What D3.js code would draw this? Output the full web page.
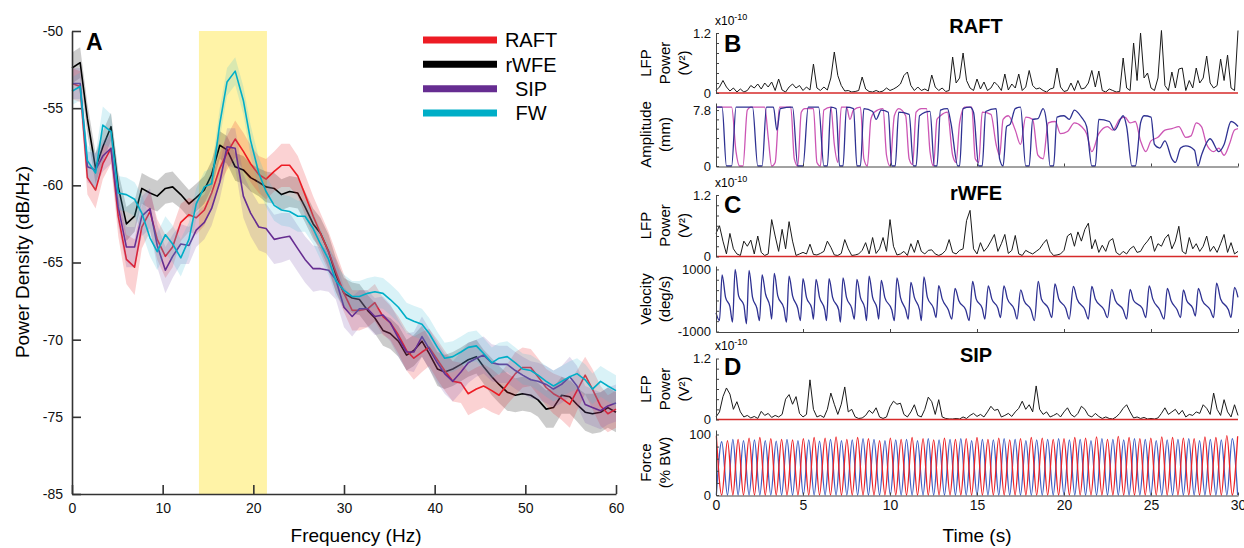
<!DOCTYPE html>
<html>
<head>
<meta charset="utf-8">
<script src="https://cdn.jsdelivr.net/npm/d3@7"></script>
<style>
  body { margin: 0; background: #fff; }
  svg { display: block; font-family: "Liberation Sans", Arial, sans-serif; }
</style>
</head>
<body>
<svg id="chart" width="1244" height="548"></svg>
<script>
// ---------- panel A : power spectra ----------
var freqHz = [0,0.9,1.7,2.6,3.4,4.3,5.1,6,6.9,7.7,8.6,9.4,10.3,11.1,12,12.9,13.7,14.6,15.4,16.3,
  17.1,18,18.9,19.7,20.6,21.4,22.3,23.1,24,24.9,25.7,26.6,27.4,28.3,29.1,30,30.9,31.7,32.6,33.4,
  34.3,35.1,36,36.9,37.7,38.6,39.4,40.3,41.1,42,42.9,43.7,44.6,45.4,46.3,47.1,48,48.9,49.7,50.6,
  51.4,52.3,53.1,54,54.9,55.7,56.6,57.4,58.3,59.1,60];

var raftMean = [-53.4,-53.6,-59.5,-60.3,-58.6,-57.6,-62.0,-64.8,-65.3,-62.7,
  -61.7,-63.5,-64.6,-64.0,-62.4,-61.9,-62.1,-61.6,-60.5,-58.9,
  -57.9,-57.0,-57.8,-58.6,-59.3,-59.6,-59.1,-58.7,-58.7,-59.4,
  -60.6,-62.0,-63.1,-64.3,-65.6,-67.0,-68.1,-68.1,-68.0,-67.6,
  -68.5,-68.9,-69.7,-70.7,-71.2,-70.8,-70.5,-71.3,-72.0,-72.7,
  -72.8,-73.5,-73.2,-73.0,-73.3,-73.6,-72.9,-72.2,-71.8,-71.8,
  -72.4,-73.1,-73.5,-73.8,-74.2,-73.3,-72.3,-73.2,-74.3,-74.8,
  -74.5];
var raftSem = [1.0,1.0,1.1,1.2,1.0,1.0,1.3,1.6,1.8,1.4,
  1.3,1.3,1.4,1.3,1.2,1.1,1.1,1.0,1.0,1.0,
  1.1,1.2,1.2,1.2,1.2,1.3,1.3,1.4,1.4,1.3,
  1.3,1.3,1.3,1.3,1.3,1.2,1.3,1.3,1.2,1.2,
  1.2,1.1,1.2,1.3,1.4,1.3,1.2,1.3,1.3,1.3,
  1.3,1.4,1.4,1.4,1.4,1.3,1.3,1.4,1.3,1.2,
  1.2,1.2,1.3,1.4,1.5,1.3,1.2,1.3,1.3,1.2,
  1.2];

var rwfeMean = [-52.4,-52.05,-55.7,-58.9,-57.5,-56.2,-60.1,-62.5,-62.0,-60.2,
  -60.5,-60.7,-60.2,-60.1,-60.6,-61.2,-60.8,-60.3,-59.3,-57.4,
  -57.7,-58.8,-59.0,-59.5,-59.8,-60.1,-60.2,-60.6,-60.4,-60.5,
  -61.4,-62.5,-63.1,-64.3,-65.8,-67.0,-67.3,-67.4,-68.1,-68.6,
  -69.4,-69.6,-70.1,-71.0,-70.7,-70.1,-70.9,-71.9,-72.1,-71.9,
  -71.6,-71.3,-71.1,-71.75,-72.4,-72.9,-73.4,-73.6,-73.5,-73.6,
  -73.9,-74.5,-74.4,-73.6,-73.7,-74.2,-74.7,-74.8,-74.7,-74.4,
  -74.7];
var rwfeSem = [1.0,1.0,1.0,1.0,1.0,0.9,1.0,1.1,1.0,1.0,
  1.0,1.0,1.0,1.0,0.9,0.9,0.9,0.9,0.9,0.9,
  0.9,0.9,0.9,0.9,0.9,1.0,1.0,1.0,1.0,1.0,
  1.0,1.0,1.0,1.1,1.1,1.0,1.0,1.0,1.0,1.0,
  1.0,1.0,1.0,1.0,1.0,1.0,1.0,1.1,1.1,1.1,
  1.1,1.1,1.1,1.1,1.2,1.2,1.2,1.1,1.1,1.1,
  1.1,1.2,1.3,1.2,1.1,1.1,1.2,1.3,1.3,1.3,
  1.3];

var sipMean = [-53.4,-53.4,-58.8,-59.0,-58.1,-57.6,-61.4,-64.0,-64.0,-62.0,
  -61.5,-63.9,-65.5,-64.6,-63.8,-63.9,-62.9,-62.4,-61.5,-59.8,
  -57.5,-57.6,-60.7,-61.8,-62.7,-62.8,-63.5,-63.4,-63.3,-64.1,
  -64.8,-65.4,-65.4,-65.5,-66.1,-67.9,-68.5,-68.0,-68.0,-68.5,
  -68.4,-68.9,-69.9,-70.8,-70.8,-69.8,-70.6,-71.5,-72.2,-72.7,
  -72.1,-71.5,-71.2,-71.0,-71.5,-71.6,-71.6,-72.0,-72.3,-72.6,
  -72.7,-72.9,-73.2,-72.9,-72.4,-73.0,-74.2,-74.4,-74.6,-74.3,
  -74.1];
var sipSem = [1.0,1.0,1.0,1.1,1.0,1.0,1.2,1.3,1.3,1.3,
  1.3,1.4,1.5,1.4,1.3,1.2,1.1,1.1,1.1,1.1,
  1.2,1.3,1.4,1.5,1.5,1.6,1.6,1.6,1.5,1.5,
  1.5,1.5,1.4,1.4,1.3,1.3,1.3,1.2,1.2,1.2,
  1.2,1.2,1.2,1.2,1.3,1.3,1.3,1.3,1.3,1.3,
  1.3,1.3,1.2,1.2,1.2,1.2,1.2,1.2,1.2,1.2,
  1.2,1.2,1.2,1.2,1.3,1.3,1.2,1.2,1.2,1.2,
  1.2];

var fwMean = [-53.9,-53.6,-58.4,-59.2,-56.1,-56.5,-60.5,-60.6,-60.9,-61.8,
  -63.4,-64.3,-63.2,-63.8,-64.7,-63.5,-61.2,-60.1,-59.9,-56.0,
  -53.3,-52.6,-54.5,-57.1,-59.2,-60.4,-61.3,-61.6,-61.7,-62.0,
  -62.0,-62.8,-63.8,-64.8,-66.2,-66.8,-67.2,-67.2,-67.0,-66.9,
  -67.0,-67.4,-67.9,-68.6,-68.8,-69.0,-69.6,-70.5,-71.2,-71.1,
  -70.8,-70.5,-70.4,-70.9,-71.5,-71.2,-71.1,-71.5,-71.9,-72.0,
  -72.3,-72.7,-73.0,-72.7,-72.4,-72.2,-72.6,-73.2,-72.7,-73.0,
  -73.3];
var fwSem = [0.9,0.9,1.0,1.2,1.2,1.1,1.1,1.1,1.1,1.2,
  1.2,1.2,1.2,1.2,1.2,1.1,1.0,1.0,1.0,1.0,
  0.9,0.9,0.9,1.0,1.0,1.0,1.0,1.0,1.0,1.0,
  1.0,1.0,1.0,1.0,1.0,1.0,1.0,1.0,1.0,1.0,
  1.0,1.0,1.0,1.0,1.0,1.0,1.0,1.0,1.0,1.0,
  1.0,1.0,1.0,1.0,1.0,1.0,1.0,1.0,1.0,1.0,
  1.0,1.0,1.0,1.0,1.0,1.0,1.0,1.0,1.0,1.0,
  1.0];

var betaBand = [14, 21.5];
var xTicksA = [0, 10, 20, 30, 40, 50, 60];
var yTicksA = [-80, -75, -70, -65, -60, -55, -50];
var yTickLabelsA = ["-85", "-75", "-70", "-65", "-60", "-55", "-50"];
var legendNames = ["RAFT", "rWFE", "SIP", "FW"];
var legendColors = ["#ed1c24", "#000000", "#662d91", "#00aec7"];

// ---------- panels B-D : example trials (LFP beta power every 0.2 s, 1e-10 V^2) ----------
var lfpRaft = [0.05,0.12,0.25,0.12,0.04,0.10,0.02,0.08,0.02,0.05,
  0.15,0.10,0.18,0.08,0.20,0.12,0.22,0.05,0.28,0.06,
  0.02,0.12,0.18,0.10,0.15,0.05,0.12,0.06,0.58,0.10,
  0.05,0.12,0.06,0.30,0.82,0.35,0.15,0.04,0.05,0.02,
  0.03,0.05,0.32,0.08,0.03,0.02,0.05,0.02,0.04,0.10,
  0.05,0.08,0.12,0.18,0.35,0.42,0.15,0.05,0.12,0.05,
  0.08,0.04,0.36,0.12,0.05,0.10,0.03,0.05,0.72,0.20,
  0.30,0.80,0.25,0.10,0.05,0.28,0.08,0.22,0.05,0.10,
  0.22,0.15,0.05,0.38,0.06,0.18,0.10,0.38,0.05,0.12,
  0.45,0.15,0.08,0.10,0.05,0.02,0.08,0.10,0.50,0.12,
  0.03,0.05,0.20,0.05,0.25,0.08,0.10,0.20,0.45,0.12,
  0.44,0.05,0.02,0.08,0.05,0.02,0.03,0.70,0.10,0.05,
  1.00,0.25,1.20,0.30,0.40,0.10,0.05,0.30,1.25,0.15,
  0.05,0.42,0.10,0.48,0.50,0.05,0.25,0.10,0.50,0.20,
  0.30,0.74,0.20,0.10,0.15,0.68,0.25,0.76,0.10,0.05,
  1.25];
var lfpRwfe = [0.45,0.60,0.30,0.05,0.45,0.15,0.05,0.02,0.30,0.20,
  0.32,0.05,0.40,0.08,0.02,0.05,0.72,0.40,0.10,0.53,
  0.15,0.68,0.30,0.02,0.05,0.08,0.05,0.24,0.04,0.03,
  0.06,0.10,0.30,0.18,0.03,0.02,0.06,0.33,0.15,0.02,
  0.03,0.05,0.12,0.27,0.05,0.37,0.06,0.15,0.37,0.10,
  0.72,0.20,0.03,0.05,0.10,0.02,0.25,0.08,0.32,0.10,
  0.05,0.12,0.13,0.05,0.02,0.05,0.12,0.33,0.08,0.05,
  0.12,0.15,0.70,0.90,0.15,0.05,0.27,0.10,0.18,0.30,
  0.43,0.10,0.25,0.43,0.06,0.12,0.41,0.05,0.02,0.12,
  0.08,0.05,0.10,0.15,0.25,0.33,0.10,0.02,0.03,0.05,
  0.12,0.40,0.45,0.20,0.48,0.30,0.53,0.65,0.15,0.33,
  0.08,0.22,0.10,0.30,0.35,0.08,0.03,0.10,0.05,0.15,
  0.20,0.08,0.10,0.22,0.30,0.40,0.10,0.25,0.20,0.35,
  0.43,0.15,0.30,0.59,0.10,0.05,0.37,0.15,0.25,0.10,
  0.20,0.40,0.10,0.20,0.08,0.25,0.43,0.08,0.27,0.05,
  0.10];
var lfpSip = [0.05,0.15,0.45,0.62,0.50,0.20,0.35,0.15,0.05,0.08,
  0.03,0.06,0.02,0.16,0.08,0.12,0.04,0.08,0.05,0.10,
  0.40,0.49,0.30,0.45,0.12,0.05,0.10,0.78,0.20,0.05,
  0.08,0.04,0.20,0.52,0.30,0.10,0.30,0.64,0.15,0.20,
  0.05,0.02,0.03,0.08,0.18,0.12,0.23,0.05,0.02,0.05,
  0.25,0.36,0.30,0.32,0.10,0.05,0.15,0.29,0.08,0.05,
  0.20,0.44,0.35,0.10,0.39,0.05,0.02,0.01,0.01,0.02,
  0.01,0.05,0.02,0.08,0.12,0.06,0.10,0.05,0.15,0.26,
  0.18,0.20,0.05,0.08,0.12,0.06,0.15,0.22,0.36,0.20,
  0.29,0.15,0.66,0.20,0.10,0.15,0.05,0.08,0.12,0.05,
  0.15,0.23,0.10,0.05,0.12,0.26,0.20,0.08,0.05,0.12,
  0.06,0.02,0.05,0.02,0.01,0.05,0.12,0.22,0.29,0.15,
  0.03,0.05,0.02,0.04,0.01,0.02,0.01,0.03,0.12,0.23,
  0.10,0.15,0.20,0.10,0.18,0.05,0.10,0.08,0.15,0.12,
  0.29,0.22,0.10,0.52,0.20,0.08,0.39,0.15,0.05,0.29,
  0.08];

// RAFT platform amplitude [s, mm]
var ampBlue = [[0,8.2],[0.35,8.2],[0.6,0],[0.9,0],[1.15,8.2],[2.1,8.2],[2.4,0],[2.65,0],[2.9,8.2],[3.3,8.2],
  [3.5,5.0],[3.7,8.0],[4.4,8.2],[4.7,0],[5.0,0],[5.3,8.2],[5.9,8.2],[6.2,0],[6.4,0],[6.6,8.2],
  [6.9,8.0],[7.1,0],[7.3,0],[7.5,8.2],[7.9,8.0],[8.1,0],[8.3,0],[8.5,8.0],[9.0,7.6],[9.2,6.5],
  [9.5,7.8],[9.9,7.5],[10.1,0],[10.3,0],[10.5,7.5],[11.1,7.2],[11.35,0],[11.5,0],[11.7,7.0],[12.3,7.6],
  [12.55,0],[12.7,0],[12.9,7.8],[13.3,8.0],[13.5,6.0],[13.9,0],[14.0,0],[14.2,8.0],[14.6,8.2],[14.8,7.5],
  [15.1,0],[15.3,0],[15.5,7.6],[16.1,8.0],[16.3,1],[16.5,0],[16.7,5.5],[16.9,5.8],[17.2,8.0],[17.5,8.2],
  [17.8,0],[18.0,0],[18.2,6.5],[18.5,6.6],[18.8,8.0],[19.0,6.0],[19.2,0],[19.4,0],[19.6,6.8],[20.0,7.0],
  [20.3,6.5],[20.6,7.8],[21.0,6.8],[21.3,5.5],[21.6,0],[21.8,0],[22.0,6.5],[22.6,6.2],[22.9,5.0],[23.4,7.0],
  [23.6,5.5],[23.9,0],[24.1,0],[24.4,6.0],[24.6,7.0],[25.0,6.8],[25.2,3.0],[25.5,2.5],[25.8,3.5],[26.2,1.0],
  [26.4,0.5],[26.7,2.5],[27.0,2.8],[27.5,2.2],[27.7,0],[27.9,1.5],[28.4,3.8],[28.9,2.0],[29.2,3.0],[29.6,6.2],
  [29.8,6.0],[30,5.5]];
var ampMagenta = [[0,8.2],[0.9,8.2],[1.15,2],[1.35,0],[1.55,0],[1.8,7.8],[2.0,8.2],[2.8,8.2],[3.0,4],[3.2,0],
  [3.4,0.5],[3.65,8.2],[4.3,8.2],[4.5,1],[4.7,0],[4.9,7.5],[5.1,8.0],[5.6,8.0],[5.8,0.5],[6.0,0],
  [6.2,7.8],[6.6,8.2],[6.8,3],[7.0,0.5],[7.2,8.2],[7.5,8.2],[7.7,6.5],[7.9,7.8],[8.3,8.2],[8.5,1],
  [8.7,0],[8.9,6.5],[9.1,7.5],[9.6,8.0],[9.8,1.5],[10.0,0],[10.25,7.0],[10.5,8.0],[10.9,7.0],[11.1,1],
  [11.3,0.2],[11.5,7.5],[11.8,8.0],[12.1,8.0],[12.3,2],[12.5,0],[12.7,6.5],[12.9,7.0],[13.3,7.5],[13.6,1.5],
  [13.8,0.5],[14.0,6.0],[14.3,8.2],[14.7,8.2],[14.9,1],[15.1,0.5],[15.3,7.5],[15.8,7.2],[16.1,3],[16.3,1.5],
  [16.5,6.5],[16.8,7.0],[17.2,5.0],[17.5,3.0],[17.8,6.8],[18.2,6.5],[18.5,1.5],[18.8,1.0],[19.1,6.0],[19.5,6.2],
  [19.8,4.5],[20.2,4.8],[20.6,6.0],[21.0,5.5],[21.3,4.5],[21.6,2.0],[22.0,4.5],[22.5,5.5],[22.8,5.0],[23.2,6.5],
  [23.5,6.8],[23.8,6.0],[24.1,6.2],[24.4,3.5],[24.7,2.0],[25.0,3.5],[25.4,4.0],[25.8,5.0],[26.2,5.2],[26.6,5.5],
  [27.0,4.0],[27.3,4.2],[27.6,6.0],[27.9,5.5],[28.2,3.0],[28.6,2.0],[28.9,2.5],[29.2,1.5],[29.5,3.0],[29.8,5.0],
  [30,5.2]];

// rWFE wheel velocity [s, deg/s]
var velocity = [[0,-400],[0.2,-650],[0.35,820],[0.55,100],[0.8,-200],[0.95,-700],[1.1,1000],[1.3,150],[1.6,-150],[1.75,-750],
  [1.9,970],[2.1,100],[2.35,-250],[2.5,-650],[2.65,820],[2.85,200],[3.1,-200],[3.2,-600],[3.35,870],[3.55,150],
  [3.9,-250],[4.05,-700],[4.2,780],[4.4,150],[4.7,-250],[4.85,-650],[5.0,700],[5.2,100],[5.5,-250],[5.6,-600],
  [5.75,680],[5.95,100],[6.25,-300],[6.35,-650],[6.5,700],[6.7,100],[7.05,-300],[7.15,-700],[7.3,730],[7.5,100],
  [7.8,-250],[7.95,-600],[8.1,680],[8.3,100],[8.55,-250],[8.65,-650],[8.8,780],[9.0,100],[9.25,-250],[9.35,-600],
  [9.5,650],[9.7,100],[10.1,-300],[10.25,-650],[10.4,730],[10.6,100],[10.9,-300],[11.05,-600],[11.2,580],[11.4,100],
  [11.7,-300],[11.8,-650],[11.95,760],[12.15,100],[12.5,-250],[12.65,-550],[12.8,480],[13.0,50],[13.35,-300],[13.55,-600],
  [13.74,390],[13.95,0],[14.35,-300],[14.55,-650],[14.75,610],[14.95,50],[15.3,-250],[15.45,-600],[15.65,470],[15.85,50],
  [16.2,-250],[16.35,-550],[16.55,470],[16.75,50],[17.15,-300],[17.3,-600],[17.51,340],[17.7,0],[18.1,-300],[18.3,-650],
  [18.52,610],[18.7,50],[19.1,-250],[19.3,-550],[19.48,530],[19.7,50],[20.1,-250],[20.3,-600],[20.54,450],[20.75,50],
  [21.2,-300],[21.4,-600],[21.6,450],[21.8,50],[22.3,-300],[22.5,-550],[22.74,360],[22.95,0],[23.4,-300],[23.6,-600],
  [23.8,360],[24.0,0],[24.5,-250],[24.7,-550],[24.9,470],[25.1,50],[25.5,-300],[25.75,-600],[25.94,390],[26.15,0],
  [26.5,-300],[26.7,-550],[26.86,340],[27.05,0],[27.4,-250],[27.55,-500],[27.72,390],[27.95,0],[28.4,-300],[28.6,-550],
  [28.77,560],[29.0,50],[29.45,-300],[29.6,-550],[29.8,420],[30,100]];

// SIP ground reaction force peaks [s] and [% BW]
var forceRedT = [0.02,0.66,1.27,1.9,2.52,3.15,3.77,4.4,5.02,5.64,6.27,6.9,7.52,8.14,8.76,9.4,10.02,10.64,11.27,11.9,
  12.51,13.13,13.76,14.38,15.0,15.63,16.25,16.88,17.5,18.12,18.75,19.38,20.0,20.62,21.24,21.87,22.5,23.12,23.74,24.36,
  24.99,25.62,26.24,26.86,27.48,28.1,28.73,29.36,29.98];
var forceRedV = [98,90,92,94,95,93,92,91,93,95,94,96,92,95,93,90,94,92,95,93,
  91,94,92,93,95,92,94,91,93,95,94,92,93,95,94,96,92,97,95,93,
  94,96,95,94,93,96,95,98,97];
var forceBlueT = [0.33,0.97,1.58,2.21,2.83,3.46,4.08,4.71,5.33,5.95,6.58,7.21,7.83,8.45,9.08,9.71,10.33,10.95,11.58,12.2,
  12.82,13.45,14.07,14.69,15.31,15.94,16.56,17.19,17.81,18.43,19.06,19.69,20.31,20.93,21.55,22.18,22.81,23.43,24.05,24.67,
  25.3,25.93,26.55,27.17,27.79,28.41,29.04,29.67];
var forceBlueV = [88,92,90,91,90,89,92,90,91,89,92,90,91,93,92,90,91,92,90,93,
  91,92,93,90,92,91,93,92,90,91,92,93,91,92,90,93,92,91,93,92,
  90,91,92,93,90,92,91,93];

var timeTicks = [0, 5, 10, 15, 20, 25, 30];
var lfpTicks = [0, 0.2, 0.4, 0.6, 0.8, 1.0, 1.2];
var lfpTickLabels = ["0", "", "", "", "", "", "1.2"];
var ampTicks = [0, 1.3, 2.6, 3.9, 5.2, 6.5, 7.8];
var ampTickLabels = ["0", "", "", "", "", "", "7.8"];
var velTicks = [-1000, -666.7, -333.3, 0, 333.3, 666.7, 1000];
var velTickLabels = ["-1000", "", "", "", "", "", "1000"];
var forceTicks = [0, 20, 40, 60, 80, 100];
var forceTickLabels = ["0", "", "", "", "", "100"];

var svg = d3.select("#chart");

function styleAxis(g, size, col) {
  g.selectAll("path, line").attr("stroke", col).attr("stroke-width", size);
  g.selectAll("text").attr("fill", "#111").attr("font-family", "Liberation Sans, Arial, sans-serif");
  g.attr("font-family", null).attr("font-size", null);
}

// ----- A -----
var xA = d3.scaleLinear().domain([0, 60]).range([72, 616]);
var yA = d3.scaleLinear().domain([-80, -50]).range([494, 31]);

svg.append("rect")
  .attr("x", xA(betaBand[0]))
  .attr("y", yA(-50))
  .attr("width", xA(betaBand[1]) - xA(betaBand[0]))
  .attr("height", yA(-80) - yA(-50))
  .attr("fill", "#fff3a7");

var groups = [
  {mean: rwfeMean, sem: rwfeSem, color: "#000000", band: "#000000"},
  {mean: raftMean, sem: raftSem, color: "#ed1c24", band: "#ed1c24"},
  {mean: sipMean, sem: sipSem, color: "#662d91", band: "#7a4fa8"},
  {mean: fwMean, sem: fwSem, color: "#00aec7", band: "#41bfd6"}
];

groups.forEach(function(g) {
  var band = d3.area()
    .x(function(d, i) { return xA(freqHz[i]); })
    .y0(function(d, i) { return yA(d - g.sem[i]); })
    .y1(function(d, i) { return yA(d + g.sem[i]); });
  svg.append("path").datum(g.mean)
    .attr("d", band)
    .attr("fill", g.band)
    .attr("fill-opacity", 0.2);
  var line = d3.line()
    .x(function(d, i) { return xA(freqHz[i]); })
    .y(function(d) { return yA(d); });
  svg.append("path").datum(g.mean)
    .attr("d", line)
    .attr("fill", "none")
    .attr("stroke", g.color)
    .attr("stroke-width", 1.6)
    .attr("stroke-linejoin", "round");
});

var axA = svg.append("g")
  .attr("transform", "translate(0," + yA(-80) + ")")
  .call(d3.axisBottom(xA).tickValues(xTicksA).tickSizeInner(-9).tickSizeOuter(0).tickPadding(9));
axA.selectAll("text").attr("font-size", 14);
styleAxis(axA, 1.6, "#333");

var ayA = svg.append("g")
  .attr("transform", "translate(" + xA(0) + ",0)")
  .call(d3.axisLeft(yA).tickValues(yTicksA).tickFormat(function(d, i) { return yTickLabelsA[i]; })
    .tickSizeInner(-9).tickSizeOuter(0).tickPadding(9));
ayA.selectAll("text").attr("font-size", 14);
styleAxis(ayA, 1.6, "#333");

svg.append("text")
  .attr("transform", "translate(22,262) rotate(-90)")
  .attr("text-anchor", "middle")
  .attr("dy", "0.35em")
  .attr("font-size", 19)
  .text("Power Density (dB/Hz)");

svg.append("text")
  .attr("x", 356).attr("y", 542)
  .attr("text-anchor", "middle")
  .attr("font-size", 19)
  .text("Frequency (Hz)");

svg.append("text")
  .attr("x", 86).attr("y", 50)
  .attr("font-size", 23).attr("font-weight", "bold")
  .text("A");

var legendY = d3.scalePoint().domain(legendNames).range([40, 113]);
legendNames.forEach(function(n, i) {
  svg.append("line")
    .attr("x1", 423).attr("x2", 497)
    .attr("y1", legendY(n)).attr("y2", legendY(n))
    .attr("stroke", legendColors[i])
    .attr("stroke-width", 7);
  svg.append("text")
    .attr("x", 531).attr("y", legendY(n))
    .attr("dy", "0.36em")
    .attr("text-anchor", "middle")
    .attr("font-size", 20)
    .text(n);
});

// ----- B, C, D -----
var xT = d3.scaleLinear().domain([0, 30]).range([716, 1238]);
var xIdx = d3.scaleLinear().domain([0, lfpRaft.length - 1]).range([716, 1238]);

var yB1 = d3.scaleLinear().domain([0, 1.2]).range([93, 33]);
var yB2 = d3.scaleLinear().domain([0, 8.78]).range([166, 103]);
var yC1 = d3.scaleLinear().domain([0, 1.2]).range([256.5, 195]);
var yC2 = d3.scaleLinear().domain([-1000, 1110]).range([331.5, 266]);
var yD1 = d3.scaleLinear().domain([0, 1.2]).range([419.5, 358.5]);
var yD2 = d3.scaleLinear().domain([0, 107.4]).range([495, 430]);

function leftAxis(scale, ticks, labels) {
  var g = svg.append("g")
    .attr("transform", "translate(" + xT(0) + ",0)")
    .call(d3.axisLeft(scale).tickValues(ticks).tickFormat(function(d, i) { return labels[i]; })
      .tickSizeInner(-3).tickSizeOuter(0).tickPadding(5));
  g.selectAll("text").attr("font-size", 13);
  styleAxis(g, 1, "#444");
  return g;
}

function bottomAxis(y, withLabels) {
  var g = svg.append("g")
    .attr("transform", "translate(0," + y + ")")
    .call(d3.axisBottom(xT).tickValues(timeTicks).tickSizeInner(-3).tickSizeOuter(0).tickPadding(5)
      .tickFormat(withLabels ? d3.format("d") : ""));
  g.selectAll("text").attr("font-size", 14);
  styleAxis(g, 1, "#444");
  return g;
}

function lfpTrace(values, y) {
  svg.append("path").datum(values)
    .attr("d", d3.line().x(function(d, i) { return xIdx(i); }).y(function(d) { return y(d); }))
    .attr("fill", "none")
    .attr("stroke", "#1a1a1a")
    .attr("stroke-width", 1);
  svg.append("line")
    .attr("x1", xT(0)).attr("x2", xT(30))
    .attr("y1", y(0)).attr("y2", y(0))
    .attr("stroke", "#d62a2a")
    .attr("stroke-width", 1.3);
}

function pairTrace(points, y, color, width, curve) {
  svg.append("path").datum(points)
    .attr("d", d3.line().x(function(d) { return xT(d[0]); }).y(function(d) { return y(d[1]); })
      .curve(curve || d3.curveLinear))
    .attr("fill", "none")
    .attr("stroke", color)
    .attr("stroke-width", width)
    .attr("stroke-linejoin", "round");
}

function sci(y) {
  var t = svg.append("text").attr("x", 715).attr("y", y).attr("font-size", 12).text("x10");
  t.append("tspan").attr("dy", -5).attr("font-size", 9).text("-10");
}

function yLabel(lines, cy) {
  var xs = [646, 665, 684];
  lines.forEach(function(l, i) {
    svg.append("text")
      .attr("transform", "translate(" + xs[i] + "," + cy + ") rotate(-90)")
      .attr("text-anchor", "middle")
      .attr("dy", "0.35em")
      .attr("font-size", 15)
      .text(l);
  });
}

function title(t, y) {
  svg.append("text").attr("x", 976).attr("y", y)
    .attr("text-anchor", "middle").attr("font-size", 20).attr("font-weight", "bold").text(t);
}

function letter(t, y) {
  svg.append("text").attr("x", 724).attr("y", y)
    .attr("font-size", 24).attr("font-weight", "bold").text(t);
}

// B
lfpTrace(lfpRaft, yB1);
leftAxis(yB1, lfpTicks, lfpTickLabels);
pairTrace(ampMagenta, yB2, "#cc55b4", 1.3, d3.curveMonotoneX);
pairTrace(ampBlue, yB2, "#2e3192", 1.3, d3.curveMonotoneX);
leftAxis(yB2, ampTicks, ampTickLabels);
bottomAxis(166.5, false);
sci(25);
yLabel(["LFP", "Power", "(V\u00b2)"], 63);
yLabel(["Amplitude", "(mm)"], 134.5);
title("RAFT", 33);
letter("B", 52);

// C
lfpTrace(lfpRwfe, yC1);
leftAxis(yC1, lfpTicks, lfpTickLabels);
pairTrace(velocity, yC2, "#2e3192", 1.3, d3.curveMonotoneX);
leftAxis(yC2, velTicks, velTickLabels);
bottomAxis(332, false);
sci(187);
yLabel(["LFP", "Power", "(V\u00b2)"], 225.5);
yLabel(["Velocity", "(deg/s)"], 299);
title("rWFE", 200);
letter("C", 213);

// D
lfpTrace(lfpSip, yD1);
leftAxis(yD1, lfpTicks, lfpTickLabels);
var bluePts = forceBlueT.map(function(t, i) { return [t, forceBlueV[i]]; })
  .concat(forceRedT.map(function(t) { return [t, 0]; }))
  .sort(function(a, b) { return a[0] - b[0]; });
var redPts = forceRedT.map(function(t, i) { return [t, forceRedV[i]]; })
  .concat(forceBlueT.map(function(t) { return [t, 0]; }))
  .sort(function(a, b) { return a[0] - b[0]; });
pairTrace(bluePts, yD2, "#3f5fc4", 1.3, d3.curveMonotoneX);
pairTrace(redPts, yD2, "#ec2227", 1.3, d3.curveMonotoneX);
leftAxis(yD2, forceTicks, forceTickLabels);
bottomAxis(495.5, true);
sci(350);
yLabel(["LFP", "Power", "(V\u00b2)"], 389);
yLabel(["Force", "(% BW)"], 462.5);
title("SIP", 361.5);
letter("D", 375);

svg.append("text")
  .attr("x", 977).attr("y", 542)
  .attr("text-anchor", "middle")
  .attr("font-size", 19)
  .text("Time (s)");
</script>
</body>
</html>
